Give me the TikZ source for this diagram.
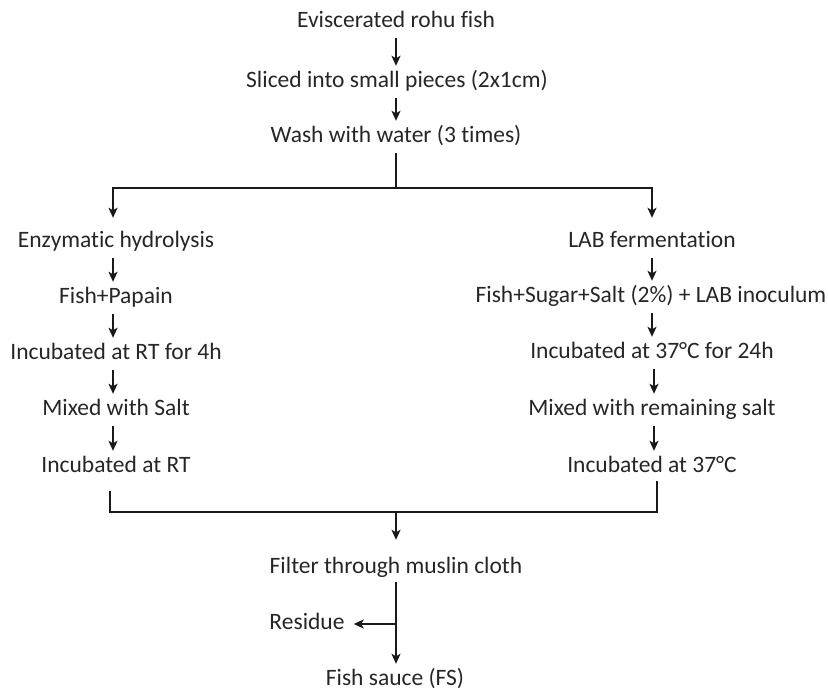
\documentclass[tikz,border=0pt]{standalone}
\usepackage{fontspec}
\setmainfont{Carlito}[Ligatures={NoCommon}]
\usetikzlibrary{arrows.meta,calc}
\begin{document}
\begin{tikzpicture}[x=1pt,y=-1pt,
  stage/.style={font=\fontsize{23.5}{26}\selectfont, text=black!85, inner xsep=4pt, inner ysep=5.5pt, text height=16pt, text depth=5pt, anchor=center},
  flow/.style={line width=1.8pt, black!90},
  arr/.style={flow, -{Stealth[length=10pt,width=9pt,inset=2.5pt]}}]
\useasboundingbox (0,0) rectangle (828,690);
\node[stage] (evi) at (396,22) {Eviscerated rohu fish};
\node[stage] (sli) at (397,82) {Sliced into small pieces (2x1cm)};
\node[stage] (was) at (396,137) {Wash with water (3 times)};
\node[stage] (enz) at (116,242) {Enzymatic hydrolysis};
\node[stage] (pap) at (116,298) {Fish+Papain};
\node[stage] (rt4) at (116,354) {Incubated at RT for 4h};
\node[stage] (mxs) at (116,410) {Mixed with Salt};
\node[stage] (rt) at (116,467) {Incubated at RT};
\node[stage] (lab) at (652,242) {LAB fermentation};
\node[stage] (sug) at (651,297) {Fish+Sugar+Salt (2\%) + LAB inoculum};
\node[stage] (i24) at (652,353) {Incubated at 37°C for 24h};
\node[stage] (rem) at (652,410) {Mixed with remaining salt};
\node[stage] (i37) at (652,467) {Incubated at 37°C};
\node[stage] (fil) at (396,568) {Filter through muslin cloth};
\node[stage] (res) at (307,624) {Residue};
\node[stage] (fs) at (395,680) {Fish sauce (FS)};
\coordinate (split) at (396,188);
\coordinate (merge) at (396,512);
\coordinate (junc) at (fil.south |- res.center);
\draw[arr] (evi.south) -- (evi.south |- sli.north);
\draw[arr] (evi.south |- sli.south) -- (evi.south |- was.north);
\draw[flow] (was.south) -- (split);
\draw[arr] (split) -| ([xshift=-3pt,yshift=8pt]enz.north);
\draw[arr] (split) -| ([yshift=8pt]lab.north);
\draw[arr] ([xshift=-3pt]enz.south) -- ([xshift=-3pt]pap.north);
\draw[arr] ([xshift=-3pt]pap.south) -- ([xshift=-3pt]rt4.north);
\draw[arr] ([xshift=-3pt]rt4.south) -- ([xshift=-3pt]mxs.north);
\draw[arr] ([xshift=-3pt]mxs.south) -- ([xshift=-3pt]rt.north);
\draw[arr] (lab.south) -- (lab.south |- sug.north);
\draw[arr] (lab.south |- sug.south) -- (lab.south |- i24.north);
\draw[arr] ([xshift=2pt]i24.south) -- ([xshift=2pt]rem.north);
\draw[arr] ([xshift=2pt]rem.south) -- ([xshift=2pt]i37.north);
\draw[flow] ([xshift=-6pt,yshift=-8pt]rt.south) |- (merge) -| ([xshift=5pt,yshift=2pt]i37.south);
\draw[arr] (merge) -- ([yshift=12pt]merge |- fil.north);
\draw[arr] ([yshift=2pt]fil.south) -- (fil.south |- fs.north);
\draw[arr] (junc) -- ([xshift=5pt]res.east);
\end{tikzpicture}
\end{document}
